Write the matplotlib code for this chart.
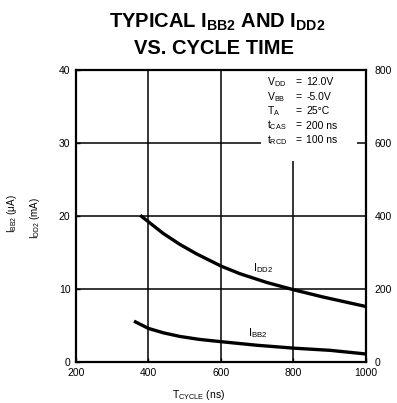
import matplotlib
matplotlib.use('Agg')
import matplotlib.pyplot as plt
from matplotlib.patches import Rectangle

plt.rcParams['font.family'] = ['Liberation Sans', 'DejaVu Sans']
plt.rcParams['mathtext.fontset'] = 'custom'
plt.rcParams['mathtext.rm'] = 'Liberation Sans'
plt.rcParams['mathtext.it'] = 'Liberation Sans'
plt.rcParams['mathtext.bf'] = 'Liberation Sans:bold'
plt.rcParams['mathtext.default'] = 'regular'

# curve values (left axis units)
t_dd = [377, 400, 441, 487, 533, 602, 652, 726, 800, 882, 1000]
i_dd2 = [20.1, 19.2, 17.6, 16.1, 14.8, 13.1, 12.1, 10.9, 9.9, 8.9, 7.6]
t_bb = [360, 400, 441, 487, 540, 597, 698, 800, 901, 1000]
i_bb2 = [5.6, 4.6, 4.0, 3.5, 3.1, 2.8, 2.3, 1.9, 1.6, 1.1]

x_ticks = [200, 400, 600, 800, 1000]
left_ticks = [0, 10, 20, 30, 40]
right_ticks = [0, 200, 400, 600, 800]

cond_names = ['V$_{DD}$', 'V$_{BB}$', 'T$_{A}$', 't$_{CAS}$', 't$_{RCD}$']
cond_vals = ['12.0V', '-5.0V', '25°C', '200 ns', '100 ns']

fig = plt.figure(figsize=(3.97, 4.03), dpi=100)
ax = fig.add_axes([0.1914, 0.1017, 0.7305, 0.7246])
ax.set_xlim(200, 1000)
ax.set_ylim(0, 40)
ax.set_xticks(x_ticks)
ax.set_yticks(left_ticks)
ax.grid(True, color='black', linewidth=1.1)
ax.set_axisbelow(True)
for s in ax.spines.values():
    s.set_linewidth(1.6)
ax.tick_params(length=3, width=1, direction='in', labelsize=7.5, pad=4)

ax2 = ax.twinx()
ax2.set_ylim(0, 800)
ax2.set_yticks(right_ticks)
ax2.tick_params(length=0, labelsize=7.5, pad=6)
for s in ax2.spines.values():
    s.set_visible(False)

ax.plot(t_dd, i_dd2, color='black', linewidth=2.4, solid_capstyle='butt', zorder=3)
ax.plot(t_bb, i_bb2, color='black', linewidth=2.4, solid_capstyle='butt', zorder=3)

ax.text(688, 12.9, 'I$_{DD2}$', fontsize=8, ha='left', va='center', zorder=4)
ax.text(675, 3.9, 'I$_{BB2}$', fontsize=8, ha='left', va='center', zorder=4)

# conditions block, white background over the grid
ax.add_patch(Rectangle((710, 27.5), 265, 12.4, facecolor='white', edgecolor='none', zorder=2))
ax.plot([810, 810], [27.5, 32], color='white', linewidth=3, zorder=2)
for k in range(len(cond_names)):
    y = 38.3 - k * 1.97
    ax.text(728, y, cond_names[k], fontsize=7.5, ha='left', va='center', zorder=4)
    ax.text(815, y, '=', fontsize=7.5, ha='center', va='center', zorder=4)
    ax.text(835, y, cond_vals[k], fontsize=7.5, ha='left', va='center', zorder=4)

fig.text(0.547, 0.945, 'TYPICAL I$_{BB2}$ AND I$_{DD2}$', fontsize=14.5, fontweight='bold',
         ha='center', va='center')
fig.text(0.54, 0.88, 'VS. CYCLE TIME', fontsize=14.5, fontweight='bold', ha='center', va='center')

fig.text(0.03, 0.47, 'I$_{BB2}$ ($\\mu$A)', fontsize=7, rotation=90, ha='center', va='center')
fig.text(0.088, 0.46, 'I$_{DD2}$ (mA)', fontsize=7, rotation=90, ha='center', va='center')
fig.text(0.5, 0.02, 'T$_{CYCLE}$ (ns)', fontsize=7.5, ha='center', va='center')

fig.savefig('out.png', dpi=100)
